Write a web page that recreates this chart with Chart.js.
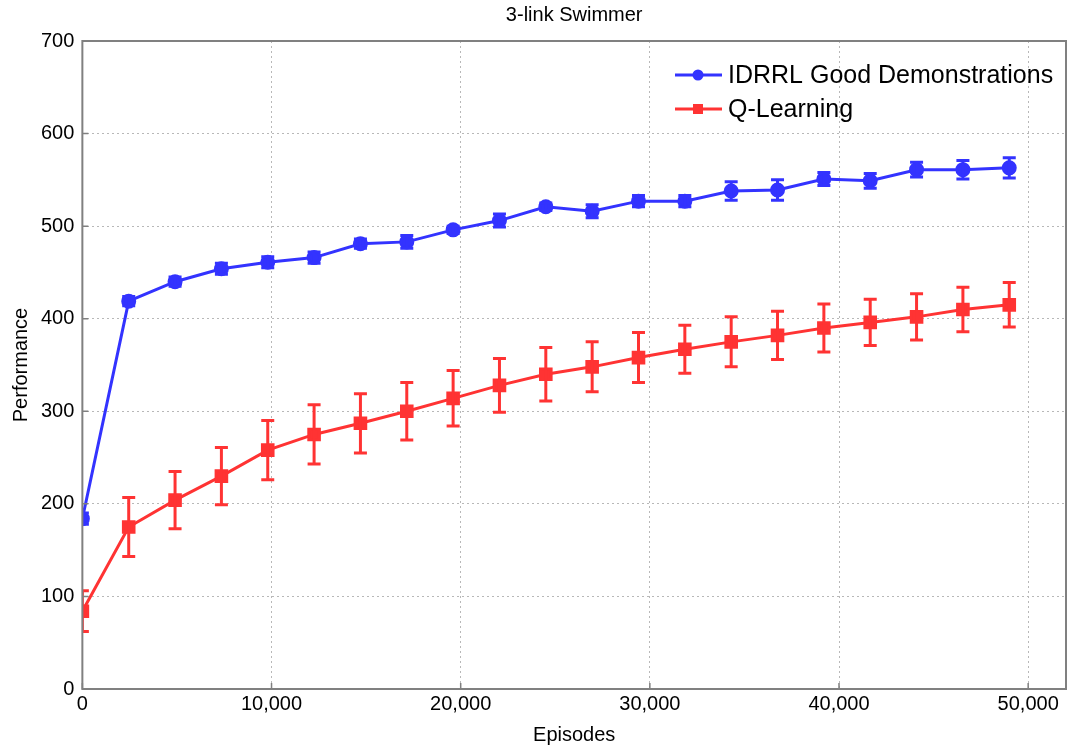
<!DOCTYPE html>
<html>
<head>
<meta charset="utf-8">
<script src="https://cdn.jsdelivr.net/npm/chart.js@4.4.1/dist/chart.umd.min.js"></script>
<style>
  html, body { margin: 0; padding: 0; background: #fff; }
  #wrap { width: 1068px; height: 747px; }
</style>
</head>
<body>
<div id="wrap"><canvas id="swimmerChart"></canvas></div>
<script>
// values
const episodes = [0, 2450, 4900, 7350, 9800, 12250, 14700, 17150, 19600, 22050, 24500,
                  26950, 29400, 31850, 34300, 36750, 39200, 41650, 44100, 46550, 49000];
const idrrl = [184, 419, 440, 454, 461, 466, 481, 483, 496, 506, 521,
               516, 527, 527, 538, 539, 551, 549, 561, 561, 563];
const idrrlErr = [6, 5, 5, 6, 6, 6, 5, 7, 4, 7, 4, 7, 6, 6, 10, 11, 7, 8, 8, 10, 11];
const qLearning = [84, 175, 204, 230, 258, 275, 287, 300, 314, 328, 340,
                   348, 358, 367, 375, 382, 390, 396, 402, 410, 415];
const qLearningErr = [22, 32, 31, 31, 32, 32, 32, 31, 30, 29, 29, 27, 27, 26, 27, 26, 26, 25, 25, 24, 24];
const xTicks = [0, 10000, 20000, 30000, 40000, 50000];

const BLUE = '#3333ff';
const RED = '#ff3333';
const FONT = "'Liberation Sans', Arial, sans-serif";

const toPoints = (ys) => ys.map((v, i) => ({ x: episodes[i], y: v }));

// error bars, drawn with the chart's own scales
const errorBars = {
    id: 'errorBars',
    afterDatasetDraw(chart, args) {
        const ds = chart.data.datasets[args.index];
        if (!ds.errors) return;
        const { ctx, chartArea, scales } = chart;
        ctx.save();
        ctx.beginPath();
        ctx.rect(chartArea.left, chartArea.top, chartArea.right - chartArea.left, chartArea.bottom - chartArea.top);
        ctx.clip();
        ctx.strokeStyle = ds.borderColor;
        ctx.lineWidth = 3;
        ds.data.forEach((p, i) => {
            const px = scales.x.getPixelForValue(p.x);
            const top = scales.y.getPixelForValue(p.y + ds.errors[i]);
            const bot = scales.y.getPixelForValue(p.y - ds.errors[i]);
            ctx.beginPath();
            ctx.moveTo(px, top); ctx.lineTo(px, bot);
            ctx.moveTo(px - 6.5, top); ctx.lineTo(px + 6.5, top);
            ctx.moveTo(px - 6.5, bot); ctx.lineTo(px + 6.5, bot);
            ctx.stroke();
        });
        ctx.restore();
    }
};

// frame, inward tick marks, title and legend
const decorations = {
    id: 'decorations',
    afterDraw(chart) {
        const { ctx, chartArea: a, scales } = chart;
        ctx.save();
        ctx.strokeStyle = '#808080';
        ctx.lineWidth = 1.5;
        ctx.beginPath();
        scales.x.ticks.forEach(t => {
            const px = scales.x.getPixelForValue(t.value);
            ctx.moveTo(px, a.bottom); ctx.lineTo(px, a.bottom - 6);
        });
        scales.y.ticks.forEach(t => {
            const py = scales.y.getPixelForValue(t.value);
            ctx.moveTo(a.left, py); ctx.lineTo(a.left + 6, py);
        });
        ctx.stroke();
        ctx.lineWidth = 2;
        ctx.strokeRect(a.left, a.top, a.right - a.left, a.bottom - a.top);

        ctx.fillStyle = '#000';
        ctx.font = '20px ' + FONT;
        ctx.textAlign = 'center';
        ctx.textBaseline = 'middle';
        ctx.fillText('3-link Swimmer', (a.left + a.right) / 2, 15);

        // legend
        const items = [
            { label: 'IDRRL Good Demonstrations', color: BLUE, marker: 'circle', y: 75 },
            { label: 'Q-Learning', color: RED, marker: 'square', y: 109 },
        ];
        ctx.font = '25px ' + FONT;
        ctx.textAlign = 'left';
        items.forEach(it => {
            ctx.strokeStyle = it.color;
            ctx.fillStyle = it.color;
            ctx.lineWidth = 3;
            ctx.beginPath();
            ctx.moveTo(675, it.y); ctx.lineTo(722, it.y);
            ctx.stroke();
            ctx.beginPath();
            if (it.marker === 'circle') ctx.arc(698, it.y, 5.5, 0, Math.PI * 2);
            else ctx.rect(693, it.y - 5, 10, 10);
            ctx.fill();
            ctx.fillStyle = '#000';
            ctx.fillText(it.label, 728, it.y + 1);
        });
        ctx.restore();
    }
};

const ctx = document.getElementById('swimmerChart').getContext('2d');
new Chart(ctx, {
    type: 'line',
    data: {
        datasets: [
            {
                label: 'Q-Learning',
                data: toPoints(qLearning),
                errors: qLearningErr,
                borderColor: RED,
                backgroundColor: RED,
                borderWidth: 3,
                pointStyle: 'rect',
                pointRadius: 7.5,
                pointHoverRadius: 7.5,
                tension: 0,
                clip: 0,
            },
            {
                label: 'IDRRL Good Demonstrations',
                data: toPoints(idrrl),
                errors: idrrlErr,
                borderColor: BLUE,
                backgroundColor: BLUE,
                borderWidth: 3,
                pointStyle: 'circle',
                pointRadius: 6,
                pointHoverRadius: 6,
                tension: 0,
                clip: 0,
            },
        ],
    },
    options: {
        responsive: true,
        maintainAspectRatio: false,
        animation: false,
        layout: { autoPadding: false, padding: { top: 41, right: 2, left: 9, bottom: 0 } },
        plugins: {
            legend: { display: false },
            title: { display: false },
            tooltip: { enabled: false },
        },
        scales: {
            x: {
                type: 'linear',
                min: 0,
                max: 52000,
                afterBuildTicks: (scale) => {
                    scale.ticks = xTicks.map(v => ({ value: v }));
                },
                ticks: {
                    color: '#000',
                    font: { family: FONT, size: 20 },
                    padding: 3,
                    maxRotation: 0,
                    callback: (v) => v.toLocaleString('en-US'),
                },
                grid: { color: '#b8b8b8', lineWidth: 1, drawTicks: false },
                border: { display: false, dash: [2, 3] },
                title: {
                    display: true,
                    text: 'Episodes',
                    color: '#000',
                    font: { family: FONT, size: 20 },
                    padding: { top: 4, bottom: 0 },
                },
            },
            y: {
                min: 0,
                max: 700,
                ticks: {
                    stepSize: 100,
                    color: '#000',
                    font: { family: FONT, size: 20 },
                    padding: 8,
                },
                grid: { color: '#b8b8b8', lineWidth: 1, drawTicks: false },
                border: { display: false, dash: [2, 3] },
                title: {
                    display: true,
                    text: 'Performance',
                    color: '#000',
                    font: { family: FONT, size: 20 },
                    padding: { top: 0, bottom: 0 },
                },
            },
        },
    },
    plugins: [errorBars, decorations],
});
</script>
</body>
</html>
